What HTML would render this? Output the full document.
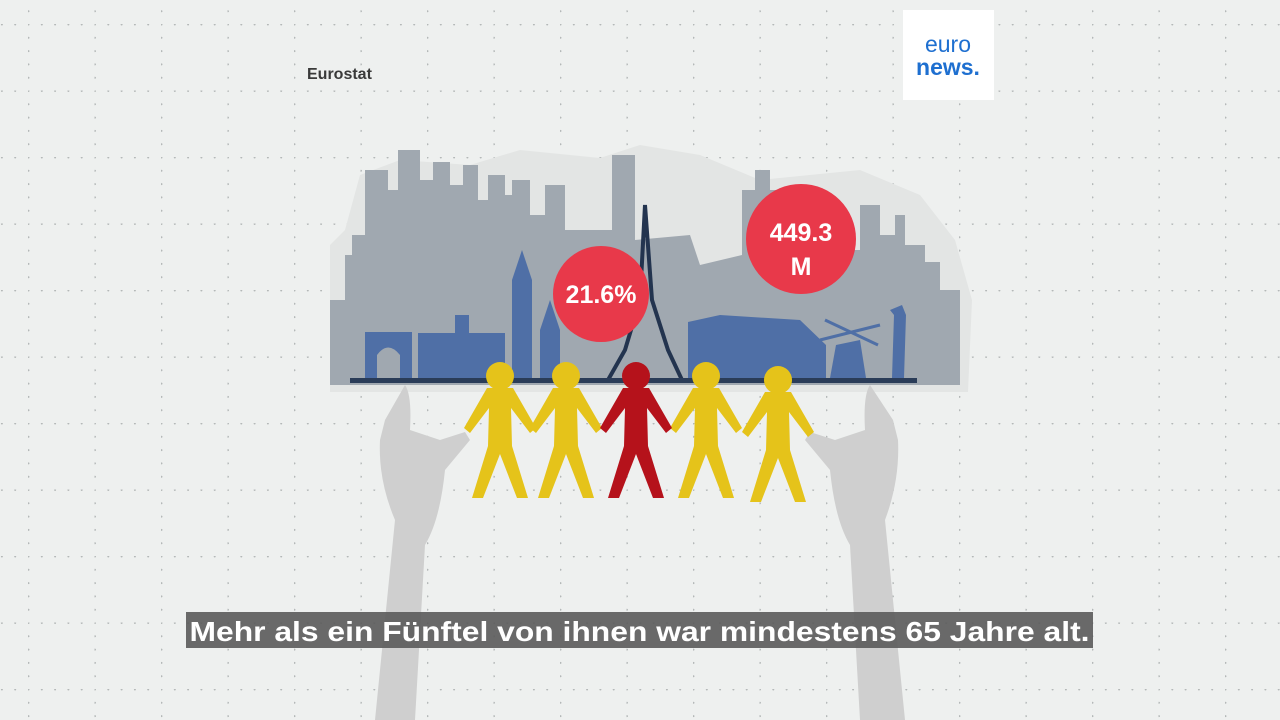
<!DOCTYPE html>
<html><head><meta charset="utf-8"><style>
html,body{margin:0;padding:0;width:1280px;height:720px;overflow:hidden;background:#eef0ef;}
svg{position:absolute;left:0;top:0}
.t{font-family:"Liberation Sans",sans-serif}
</style></head><body>
<svg width="1280" height="720" viewBox="0 0 1280 720">
<defs>
<pattern id="g" x="28" y="24" width="66.5" height="66.5" patternUnits="userSpaceOnUse">
<circle cx="0.5" cy="0.5" r="1" fill="#b4b8b8"/>
<circle cx="13.8" cy="0.5" r="1" fill="#b4b8b8"/><circle cx="27.1" cy="0.5" r="1" fill="#b4b8b8"/><circle cx="40.4" cy="0.5" r="1" fill="#b4b8b8"/><circle cx="53.7" cy="0.5" r="1" fill="#b4b8b8"/>
<circle cx="0.5" cy="13.8" r="1" fill="#b4b8b8"/><circle cx="0.5" cy="27.1" r="1" fill="#b4b8b8"/><circle cx="0.5" cy="40.4" r="1" fill="#b4b8b8"/><circle cx="0.5" cy="53.7" r="1" fill="#b4b8b8"/>
</pattern>
<g id="person">
<circle cx="0" cy="0" r="14"/>
<path d="M-13,12 L13,12 L36,52 L30,57 L11,32 L12,70 L28,122 L17,122 L0,78 L-17,122 L-28,122 L-12,70 L-11,32 L-30,57 L-36,52 Z"/>
</g>
</defs>
<rect width="1280" height="720" fill="url(#g)"/>
<text x="307" y="79" class="t" font-size="16" font-weight="bold" fill="#3a3a3a">Eurostat</text>
<rect x="903" y="10" width="91" height="90" fill="#fff"/>
<text x="948" y="52" class="t" font-size="23" fill="#1e6fd0" text-anchor="middle">euro</text>
<text x="948" y="75" class="t" font-size="23" font-weight="bold" fill="#1e6fd0" text-anchor="middle">news.</text>
<path d="M330,245 L345,230 L360,175 L400,160 L470,165 L520,150 L600,158 L640,145 L700,155 L760,180 L860,170 L920,195 L955,240 L972,300 L968,392 L330,392 Z" fill="#e3e5e4"/>
<path d="M330,300 L345,300 L345,255 L352,255 L352,235 L365,235 L365,170 L388,170 L388,190 L398,190 L398,150 L420,150 L420,180 L433,180 L433,162 L450,162 L450,185 L463,185 L463,165 L478,165 L478,200 L488,200 L488,175 L505,175 L505,195 L512,195 L512,180 L530,180 L530,215 L545,215 L545,185 L565,185 L565,230 L600,230 L600,230 L612,230 L612,155 L635,155 L635,240 L690,235 L700,265 L742,255 L742,190 L755,190 L755,170 L770,170 L770,190 L780,190 L780,250 L860,250 L860,205 L880,205 L880,235 L895,235 L895,215 L905,215 L905,245 L925,245 L925,262 L940,262 L940,290 L960,290 L960,385 L330,385 Z" fill="#a0a8b0"/>
<g fill="#4f6fa6">
<path d="M365,332 L412,332 L412,378 L400,378 L400,355 Q388,340 377,355 L377,378 L365,378 Z"/>
<path d="M418,333 L505,333 L505,378 L418,378 Z"/>
<rect x="455" y="315" width="14" height="18"/>
<path d="M512,378 L512,280 L522,250 L532,280 L532,378 Z"/>
<path d="M540,378 L540,330 L550,300 L560,330 L560,378 Z"/>
<path d="M688,378 L688,322 L720,315 L800,320 L826,345 L826,378 Z"/>
<path d="M830,378 L836,345 L860,340 L866,378 Z"/>
<path d="M892,378 L894,315 L890,310 L902,305 L906,315 L904,378 Z"/>
</g>
<g stroke="#4f6fa6" stroke-width="3"><line x1="820" y1="340" x2="880" y2="325"/><line x1="825" y1="320" x2="878" y2="345"/></g>
<path d="M645,205 L652,300 L668,350 L682,380 L608,380 L625,350 L640,300 Z" fill="none" stroke="#23344f" stroke-width="4"/>
<rect x="350" y="378" width="567" height="5" fill="#2a3c58"/>
<circle cx="601" cy="294" r="48" fill="#e8394a"/>
<text x="601" y="303" class="t" font-size="25" font-weight="bold" fill="#fff" text-anchor="middle">21.6%</text>
<circle cx="801" cy="239" r="55" fill="#e8394a"/>
<text x="801" y="241" class="t" font-size="25" font-weight="bold" fill="#fff" text-anchor="middle">449.3</text>
<text x="801" y="275" class="t" font-size="25" font-weight="bold" fill="#fff" text-anchor="middle">M</text>
<path d="M405,385 Q412,395 410,430 L440,440 L465,432 L470,440 L445,470 Q440,520 425,545 L415,720 L375,720 L395,520 Q378,480 380,440 L385,420 Z" fill="#cfcfcf"/>
<path d="M870,385 Q863,395 865,430 L835,440 L810,432 L805,440 L830,470 Q835,520 850,545 L860,720 L905,720 L885,520 Q900,480 898,440 L893,420 Z" fill="#cfcfcf"/>
<g fill="#e5c31a"><use href="#person" x="500" y="376"/><use href="#person" x="566" y="376"/><use href="#person" x="706" y="376"/><use href="#person" x="778" y="380"/></g>
<g fill="#b5121b"><use href="#person" x="636" y="376"/></g>
<rect x="186" y="612" width="907" height="36" fill="#5a5a5a" opacity="0.9"/>
<text x="639.5" y="641" class="t" font-size="28" font-weight="bold" fill="#fff" text-anchor="middle" textLength="900" lengthAdjust="spacingAndGlyphs">Mehr als ein Fünftel von ihnen war mindestens 65 Jahre alt.</text>
</svg>
</body></html>
